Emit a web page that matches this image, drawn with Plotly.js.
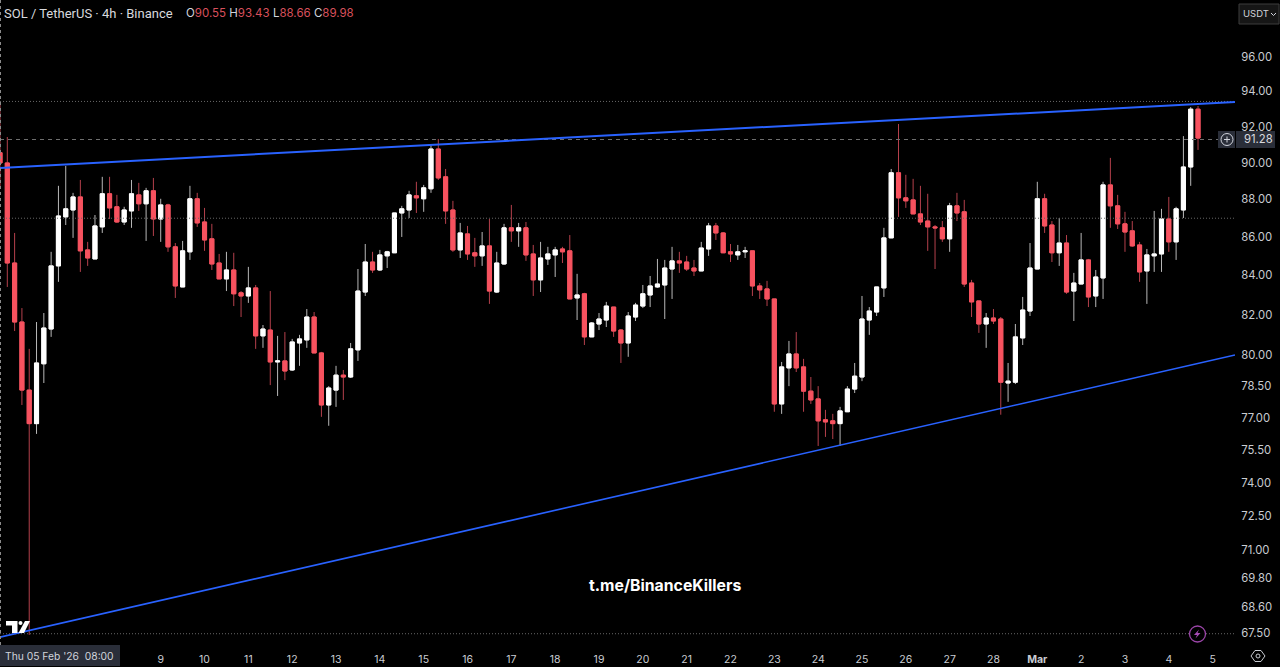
<!DOCTYPE html>
<html><head><meta charset="utf-8">
<script src="https://cdn.plot.ly/plotly-3.0.1.min.js"></script>
<style>html,body{margin:0;padding:0;background:#000;overflow:hidden}#chart{width:1280px;height:667px}</style>
</head><body><div id="chart"></div>
<script>
const opens = [90.55,89.98,84.64,81.64,78.31,76.72,79.58,81.29,84.49,87.06,
87.43,88.13,85.32,84.85,86.53,88.3,87.6,86.79,87.38,88.24,
87.76,88.46,86.95,87.7,85.48,83.41,85.22,88.03,86.79,85.9,
84.64,83.82,84.28,83.11,82.95,83.36,80.95,81.24,79.67,79.72,
79.28,80.6,80.75,81.89,80.11,77.6,78.31,79.03,78.94,80.26,
83.15,84.69,84.28,85.01,85.17,87.27,87.43,88.19,88.03,88.57,
90.75,89.22,87.43,85.32,86.16,85.17,85.01,85.53,83.15,84.59,
86.48,86.32,86.48,85.11,83.77,84.85,85.06,85.37,85.27,82.85,
83.06,80.9,81.54,81.74,82.39,81.24,80.6,81.89,82.44,83.0,
83.41,83.51,84.33,84.75,84.69,84.38,84.23,85.37,86.58,86.21,
85.22,85.06,85.22,85.27,83.46,83.31,82.8,77.65,79.38,80.06,
79.43,78.26,77.89,76.9,76.85,76.72,77.28,78.36,78.94,81.74,
82.14,83.36,85.95,89.44,88.08,87.97,87.22,86.84,86.53,86.48,
85.9,87.65,87.33,83.61,82.7,81.54,81.84,81.79,78.65,78.69,
80.85,82.19,84.33,88.03,86.63,85.17,85.68,83.2,83.56,84.8,
82.95,83.87,88.78,87.65,86.69,86.32,85.58,84.23,85.01,85.11,
86.95,85.74,87.43,89.76,92.99];
const highs = [93.43,91.42,86.21,82.34,80.31,81.64,82.09,85.22,88.73,89.82,
88.35,89.05,85.74,87.16,89.22,89.22,88.24,87.6,89.05,88.89,
88.62,89.16,88.03,87.76,85.68,85.79,88.73,88.35,87.54,86.69,
85.11,85.22,85.17,83.2,84.44,83.51,81.49,83.2,80.95,81.14,
80.8,81.0,82.29,82.14,80.16,78.5,79.48,79.28,80.6,84.33,
85.63,85.22,85.32,85.27,87.27,87.65,88.46,88.95,88.78,90.97,
91.31,89.65,87.92,86.74,86.58,85.95,86.26,86.95,85.22,86.69,
87.7,86.74,86.79,85.58,85.74,85.48,85.48,85.48,86.1,84.08,
83.11,81.64,82.09,82.65,82.39,81.29,82.14,82.6,83.51,83.97,
84.85,84.8,85.48,85.22,85.01,84.8,85.74,86.74,86.74,86.26,
85.63,85.58,85.48,85.27,83.61,83.72,82.8,79.67,80.7,81.14,
79.82,78.94,78.5,77.37,77.18,77.51,78.5,79.62,82.95,82.39,
83.41,86.48,89.65,92.15,89.33,89.11,88.73,88.3,86.63,86.84,
87.81,88.35,87.97,83.77,82.7,82.09,82.29,81.89,79.62,81.54,
82.9,85.68,88.95,88.3,86.84,87.0,86.1,84.13,86.21,84.85,
84.28,88.95,90.26,88.24,87.33,86.84,85.74,85.37,87.38,87.49,
88.13,87.6,91.47,93.11,93.17];
const lows = [88.66,83.41,81.19,77.6,67.42,76.24,78.65,80.9,83.67,86.63,
85.95,84.18,84.49,84.85,86.21,86.95,86.74,86.63,86.48,87.38,
85.79,86.05,85.74,85.22,82.85,83.41,84.8,86.53,85.27,84.28,
83.82,83.2,82.44,81.89,82.6,80.31,80.36,78.55,78.03,78.79,
79.23,79.48,80.36,80.11,77.04,76.62,77.51,77.84,78.89,79.72,
82.95,84.13,84.23,84.38,85.17,86.0,87.0,87.27,87.33,88.35,
89.05,86.69,85.22,84.9,84.8,84.44,84.49,82.55,83.1,84.54,
85.74,85.48,84.75,82.95,83.15,84.54,83.92,84.64,82.8,81.74,
80.5,80.9,81.24,81.39,80.9,79.62,79.92,81.69,82.34,82.39,
83.36,81.79,82.8,84.13,84.23,83.97,84.23,85.01,85.84,85.17,
84.69,84.8,84.9,82.95,82.8,82.44,77.28,77.18,78.5,79.18,
77.28,77.65,75.68,76.1,76.0,75.68,77.28,78.17,78.74,81.0,
81.94,82.9,85.95,87.06,87.54,87.22,86.63,85.27,84.33,85.74,
85.22,86.84,83.41,81.89,81.1,80.36,81.54,77.14,77.75,78.6,
80.5,81.94,84.33,86.21,84.69,84.49,83.06,81.69,83.56,82.39,
82.39,82.8,86.48,86.42,85.22,85.48,83.67,82.55,84.18,84.18,
85.22,84.8,87.0,88.73,90.7];
const closes = [89.98,84.64,81.64,78.31,76.72,79.62,81.34,84.49,87.11,87.49,
88.13,85.27,84.9,86.58,88.3,87.54,86.79,87.43,88.3,87.76,
88.46,86.95,87.7,85.48,83.46,85.27,88.03,86.74,85.84,84.59,
83.82,84.28,83.06,82.95,83.36,80.95,81.29,79.67,79.72,79.23,
80.65,80.8,81.89,80.11,77.6,78.41,79.03,78.94,80.31,83.2,
84.69,84.28,85.06,85.22,87.27,87.49,88.24,88.08,88.62,90.75,
89.16,87.38,85.32,86.21,85.11,85.01,85.53,83.2,84.64,86.48,
86.32,86.48,85.06,83.77,84.9,85.11,85.32,85.22,82.8,83.0,
80.9,81.59,81.79,82.44,81.19,80.6,81.94,82.49,83.06,83.46,
83.56,84.38,84.75,84.64,84.33,84.23,85.42,86.58,86.21,85.17,
85.11,85.22,85.27,83.46,83.26,82.8,77.65,79.43,80.06,79.38,
78.26,77.84,76.85,76.8,76.72,77.32,78.36,78.98,81.79,82.19,
83.41,85.95,89.44,88.08,87.92,87.22,86.79,86.53,86.48,85.9,
87.65,87.27,83.56,82.65,81.54,81.84,81.69,78.69,78.74,80.9,
82.24,84.38,88.03,86.58,85.17,85.68,83.15,83.61,84.8,82.9,
83.92,88.78,87.65,86.69,86.26,85.53,84.18,85.06,85.11,86.95,
85.74,87.49,89.76,92.99,91.36];
const priceTicks = [96,94,92,90,88,86,84,82,80,78.5,77,75.5,74,72.5,71,69.8,68.6,67.5];
const dayTickDates = ['2026-02-09','2026-02-10','2026-02-11','2026-02-12','2026-02-13','2026-02-14','2026-02-15','2026-02-16','2026-02-17','2026-02-18','2026-02-19','2026-02-20','2026-02-21','2026-02-22','2026-02-23','2026-02-24','2026-02-25','2026-02-26','2026-02-27','2026-02-28','2026-03-01','2026-03-02','2026-03-03','2026-03-04','2026-03-05'];
const dayTickLabels = ['9','10','11','12','13','14','15','16','17','18','19','20','21','22','23','24','25','26','27','28','<b>Mar</b>','2','3','4','5'];
const upperTrend = [89.71,93.40];
const lowerTrend = [67.33,80.01];
const highLevel = 93.43, lastLevel = 91.28, midLevel = 86.99, lowLevel = 67.47;

const startMs = Date.UTC(2026,1,5,8);
const times = opens.map((_, i) => new Date(startMs + i*4*3600*1000).toISOString());
const xStart = '2026-02-05 08:00', xEnd = '2026-03-05 12:15';
const candleWidthMs = 10.5e6;

const RED='#f7525f', REDW='#b5404c', WHITE='#ffffff', WHITEW='#b8b8b8', TXT='#c9ccd2';
const W=1235, H=645;
const px=x=>x/W, py=y=>1-y/H;
const pth=pts=>pts.map((p,i)=>(i?'L':'M')+px(p[0]).toFixed(5)+' '+py(p[1]).toFixed(5)).join(' ')+' Z';

const wicks={type:'candlestick',x:times,open:opens,high:highs,low:lows,close:closes,whiskerwidth:0,hoverinfo:'skip',width:candleWidthMs,
 increasing:{line:{color:WHITEW,width:1},fillcolor:WHITE},decreasing:{line:{color:REDW,width:1},fillcolor:RED}};
const bodies={type:'candlestick',x:times,open:opens,close:closes,width:candleWidthMs,
 high:opens.map((o,i)=>Math.max(o,closes[i])),low:opens.map((o,i)=>Math.min(o,closes[i])),whiskerwidth:0,hoverinfo:'skip',
 increasing:{line:{color:WHITE,width:1},fillcolor:WHITE},decreasing:{line:{color:RED,width:1},fillcolor:RED}};
const hline=(v,dash,color,x0)=>({type:'scatter',mode:'lines',x:[x0||xStart,xEnd],y:[v,v],hoverinfo:'skip',line:{color,width:1,dash}});
const trend=(ys,w)=>({type:'scatter',mode:'lines',x:[xStart,xEnd],y:ys,hoverinfo:'skip',line:{color:'#2962ff',width:w}});

const data=[hline(highLevel,'1px,2px','#666666'),hline(midLevel,'1px,2px','#666666'),hline(lowLevel,'1px,2px','#666666'),
 hline(lastLevel,'4px,4px','#6e6e6e'),wicks,bodies,trend(upperTrend,2),trend(lowerTrend,1.6)];

const ohlcTxt=
 '<span style="color:#d1d4dc">O</span>90.55 <span style="color:#d1d4dc">H</span>93.43 <span style="color:#d1d4dc">L</span>88.66 <span style="color:#d1d4dc">C</span>89.98';
const ann=(x,y,text,size,color,extra)=>Object.assign({xref:'paper',yref:'paper',x:px(x),y:py(y),text,showarrow:false,xanchor:'left',yanchor:'middle',font:{family:'Inter, Roboto, sans-serif',size,color},borderpad:0},extra||{});

const annotations=[
 ann(3,13,'SOL / TetherUS · 4h · Binance',13,'#d8d9de',{font:{family:'Roboto, sans-serif',size:13,color:'#d8d9de'}}),
 ann(185,13.5,ohlcTxt,11.5,'#d8505c'),
 ann(665,585,'<b>t.me/BinanceKillers</b>',15.8,'#ffffff',{xanchor:'center'}),
 ann(4,656,"Thu 05 Feb '26&nbsp;&nbsp;08:00",10.3,'#d1d4dc'),
 ann(1243,139.5,'91.28',11.3,'#d8d9de'),
 ann(1242,14,'USDT',9.5,'#d1d4dc'),
];
const shapes=[
 {type:'rect',layer:'above',xref:'paper',yref:'paper',x0:px(0),x1:px(120),y0:py(645),y1:py(666),fillcolor:'#2a2e39',line:{width:0}},
 {type:'rect',layer:'above',xref:'paper',yref:'paper',x0:px(1218),x1:px(1235),y0:py(131),y1:py(148),fillcolor:'#2a2e39',line:{width:0}},
 {type:'rect',layer:'above',xref:'paper',yref:'paper',x0:px(1236),x1:px(1275),y0:py(131),y1:py(148),fillcolor:'#2a2e39',line:{width:0}},
 {type:'circle',layer:'above',xref:'paper',yref:'paper',x0:px(1221),x1:px(1233),y0:py(133.5),y1:py(145.5),line:{color:'#d1d4dc',width:1},fillcolor:'rgba(0,0,0,0)'},
 {type:'line',layer:'above',xref:'paper',yref:'paper',x0:px(1224),x1:px(1230),y0:py(139.5),y1:py(139.5),line:{color:'#d1d4dc',width:1}},
 {type:'line',layer:'above',xref:'paper',yref:'paper',x0:px(1227),x1:px(1227),y0:py(136.5),y1:py(142.5),line:{color:'#d1d4dc',width:1}},
 {type:'line',layer:'above',xref:'paper',yref:'paper',x0:px(0.5),x1:px(0.5),y0:py(0),y1:py(645),line:{color:'#8a8a8a',width:1,dash:'3px,3px'}},
 {type:'rect',layer:'below',xref:'paper',yref:'paper',x0:px(1239),x1:px(1279),y0:py(4),y1:py(24),fillcolor:'#161616',line:{color:'#3c3c3c',width:1}},
 {type:'path',layer:'above',xref:'paper',yref:'paper',path:'M'+px(1271)+' '+py(13)+' L'+px(1273.5)+' '+py(15.5)+' L'+px(1276)+' '+py(13),line:{color:'#d1d4dc',width:1},fillcolor:'rgba(0,0,0,0)'},
 {type:'path',layer:'above',xref:'paper',yref:'paper',path:pth([[6,621],[17.5,621],[17.5,633],[12,633],[12,625.5],[6,625.5]]),fillcolor:'#ffffff',line:{width:0}},
 {type:'circle',layer:'above',xref:'paper',yref:'paper',x0:px(18.5),x1:px(22.5),y0:py(621),y1:py(625),fillcolor:'#ffffff',line:{width:0}},
 {type:'path',layer:'above',xref:'paper',yref:'paper',path:pth([[25,621],[30,621],[24,633],[18.5,633]]),fillcolor:'#ffffff',line:{width:0}},
 {type:'circle',layer:'above',xref:'paper',yref:'paper',x0:px(1189.5),x1:px(1205.5),y0:py(626),y1:py(642),fillcolor:'#000000',line:{color:'#9b45a8',width:1.3}},
 {type:'path',layer:'above',xref:'paper',yref:'paper',path:pth([[1199,629.5],[1194,635],[1197,635],[1195.5,638.5],[1200.5,633],[1197.5,633]]),fillcolor:'#a84cb6',line:{width:0}},
 {type:'path',layer:'above',xref:'paper',yref:'paper',path:pth([[1255,650.5],[1261,650.5],[1265,656],[1261,661.5],[1255,661.5],[1251,656]]),fillcolor:'rgba(0,0,0,0)',line:{color:'#c9ccd2',width:1}},
 {type:'circle',layer:'above',xref:'paper',yref:'paper',x0:px(1256),x1:px(1260),y0:py(654),y1:py(658),fillcolor:'rgba(0,0,0,0)',line:{color:'#c9ccd2',width:1}},
];

const layout={width:1280,height:667,margin:{l:0,r:45,t:0,b:22,pad:0},paper_bgcolor:'#000',plot_bgcolor:'#000',showlegend:false,
 font:{family:'Inter, Roboto, sans-serif',size:11,color:TXT},
 xaxis:{type:'date',range:[xStart,xEnd],showgrid:false,zeroline:false,showline:false,tickmode:'array',tickvals:dayTickDates,ticktext:dayTickLabels,
  ticks:'outside',ticklen:4,tickcolor:'rgba(0,0,0,0)',tickfont:{size:10.5,color:TXT},rangeslider:{visible:false},tickangle:0},
 yaxis:{type:'log',side:'right',range:[Math.log10(67.006),Math.log10(99.41)],showgrid:false,zeroline:false,showline:false,tickmode:'array',
  tickvals:priceTicks,ticktext:priceTicks.map(v=>v.toFixed(2)),ticks:'outside',ticklen:3,tickcolor:'rgba(0,0,0,0)',tickfont:{size:11.3,color:TXT}},
 shapes,annotations,boxgap:0.2};
Plotly.newPlot('chart',data,layout,{displayModeBar:false,staticPlot:true});
</script></body></html>
